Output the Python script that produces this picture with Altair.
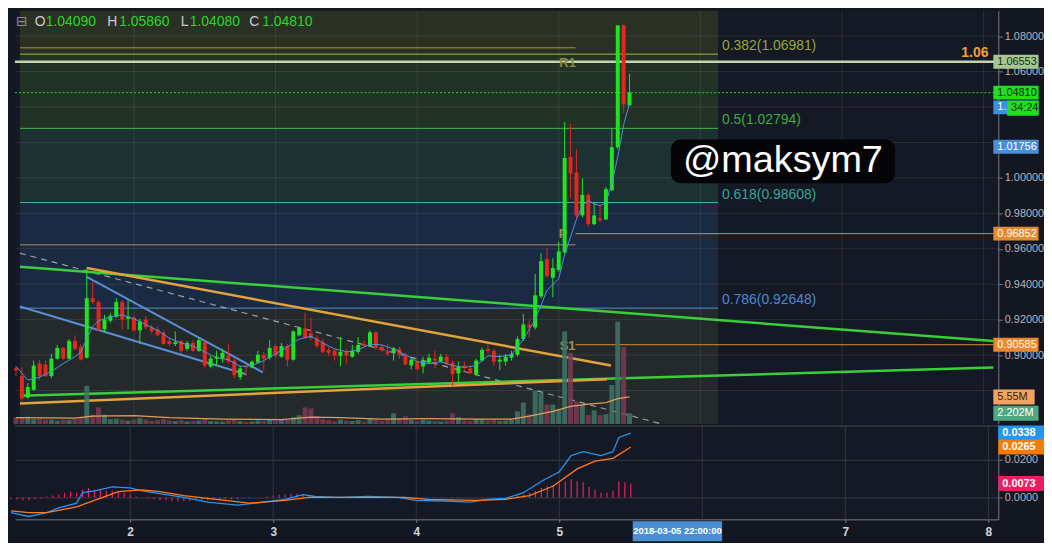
import altair as alt
import pandas as pd

FONT = "Liberation Sans"

# ---------------- values ----------------
START_DAY = 1 + 4 / 24          # first hourly candle: 1 March 04:00 (x axis = day of March)

OPEN = [0.8925,0.8881,0.8760,0.8804,0.8952,0.8947,0.8881,0.8980,0.9040,0.8980,
        0.9079,0.9046,0.8985,0.9321,0.9299,0.9145,0.9194,0.9216,0.9299,0.9205,
        0.9211,0.9139,0.9200,0.9156,0.9145,0.9128,0.9079,0.9062,0.9079,0.9035,
        0.9068,0.9024,0.9073,0.8936,0.8980,0.8980,0.8996,0.8969,0.8875,0.8936,
        0.8930,0.8958,0.9002,0.8985,0.9051,0.8991,0.9051,0.8974,0.9112,0.9150,
        0.9123,0.9095,0.9073,0.9029,0.9024,0.8996,0.9018,0.8991,0.9018,0.9062,
        0.9051,0.9128,0.9046,0.9024,0.9013,0.9035,0.9002,0.8941,0.8963,0.8936,
        0.8958,0.8980,0.8963,0.8991,0.8958,0.8897,0.8941,0.8925,0.8892,0.8969,
        0.9035,0.9024,0.8963,0.8963,0.8985,0.9002,0.9090,0.9172,0.9156,0.9331,
        0.9541,0.9436,0.9480,0.9579,1.0118,1.0030,0.9788,0.9904,0.9739,0.9772,
        0.9766,0.9931,1.0173,1.0861,1.0409]
HIGH = [0.8936,0.8930,0.8842,0.8969,0.8974,0.8969,0.9007,0.9057,0.9046,0.9090,
        0.9112,0.9062,0.9491,0.9414,0.9310,0.9227,0.9238,0.9321,0.9310,0.9310,
        0.9222,0.9205,0.9222,0.9172,0.9161,0.9139,0.9101,0.9134,0.9084,0.9079,
        0.9084,0.9101,0.9079,0.8996,0.9024,0.9035,0.9062,0.8980,0.8941,0.8941,
        0.8969,0.9024,0.9018,0.9084,0.9062,0.9068,0.9062,0.9139,0.9161,0.9238,
        0.9211,0.9112,0.9090,0.9046,0.9035,0.9101,0.9035,0.9057,0.9101,0.9084,
        0.9139,0.9134,0.9062,0.9062,0.9046,0.9046,0.9013,0.8991,0.8974,0.8991,
        0.9007,0.9024,0.9007,0.9007,0.8969,0.8963,0.8963,0.8941,0.8980,0.9040,
        0.9062,0.9035,0.9002,0.9007,0.9024,0.9106,0.9233,0.9194,0.9458,0.9574,
        0.9601,0.9546,0.9640,1.0316,1.0305,1.0162,0.9997,0.9915,0.9860,0.9849,
        0.9947,1.0283,1.0861,1.0866,1.0586]
LOW = [0.8881,0.8738,0.8754,0.8798,0.8859,0.8875,0.8870,0.8974,0.8974,0.8974,
       0.9029,0.8969,0.8980,0.9288,0.9134,0.9128,0.9183,0.9211,0.9145,0.9145,
       0.9134,0.9062,0.9145,0.9117,0.9106,0.9057,0.9051,0.9051,0.9007,0.9024,
       0.9018,0.9018,0.8925,0.8925,0.8941,0.8958,0.8952,0.8870,0.8859,0.8881,
       0.8925,0.8952,0.8914,0.8974,0.8985,0.8985,0.8936,0.8969,0.9106,0.9090,
       0.9084,0.9040,0.9007,0.8996,0.8969,0.8936,0.8952,0.8985,0.9007,0.9046,
       0.9046,0.9029,0.9018,0.8996,0.8969,0.8980,0.8941,0.8919,0.8914,0.8897,
       0.8947,0.8925,0.8958,0.8941,0.8826,0.8837,0.8908,0.8892,0.8881,0.8963,
       0.9007,0.8941,0.8914,0.8941,0.8969,0.8991,0.9079,0.9101,0.9145,0.9321,
       0.9436,0.9326,0.9469,0.9568,0.9887,0.9777,0.9777,0.9722,0.9733,0.9750,
       0.9761,0.9926,1.0162,1.0366,1.0408]
CLOSE = [0.8914,0.8754,0.8820,0.8941,0.8881,0.8881,0.8980,0.9040,0.8980,0.9079,
         0.9035,0.8974,0.9321,0.9299,0.9145,0.9200,0.9222,0.9299,0.9200,0.9216,
         0.9139,0.9189,0.9156,0.9134,0.9112,0.9062,0.9062,0.9073,0.9024,0.9068,
         0.9024,0.9084,0.8941,0.8980,0.8991,0.9013,0.8963,0.8886,0.8925,0.8930,
         0.8963,0.9002,0.8980,0.9040,0.8996,0.9051,0.8974,0.9134,0.9156,0.9101,
         0.9095,0.9051,0.9018,0.9013,0.8996,0.9018,0.8996,0.9024,0.9057,0.9051,
         0.9128,0.9040,0.9029,0.9007,0.9040,0.9002,0.8947,0.8974,0.8919,0.8969,
         0.8985,0.8969,0.8991,0.8952,0.8892,0.8936,0.8930,0.8897,0.8969,0.9029,
         0.9024,0.8963,0.8974,0.8991,0.9007,0.9090,0.9172,0.9156,0.9337,0.9530,
         0.9447,0.9491,0.9585,1.0112,1.0025,0.9788,0.9904,0.9739,0.9788,0.9761,
         0.9936,1.0173,1.0861,1.0415,1.0481]
VOLUME_M = [1.4,1.3,1.5,1.0,1.1,0.9,0.9,0.7,0.9,0.8,
            1.0,1.2,7.8,1.9,3.4,1.9,1.0,1.1,0.9,0.7,
            0.9,1.2,0.9,0.6,0.8,1.0,0.7,0.6,0.8,0.5,
            0.6,0.7,1.2,0.6,0.5,0.5,0.7,0.9,0.6,0.4,
            0.5,0.7,0.6,0.9,0.7,0.8,0.9,1.4,1.8,3.4,
            3.2,1.6,1.0,0.8,0.6,0.9,0.7,0.6,0.8,0.5,
            1.0,0.9,0.6,0.8,2.2,1.1,1.6,0.8,0.6,0.9,
            0.7,0.6,0.5,0.7,2.2,1.4,0.7,0.6,1.0,0.9,
            0.7,0.8,0.6,0.7,0.9,2.6,4.4,2.0,6.8,6.4,
            4.0,4.0,3.0,19.0,14.6,4.6,4.0,1.8,2.8,1.8,
            2.0,8.0,21.0,15.8,2.202]

MA_IDX = [0,2,4,6,8,10,11,12,13,14,16,18,20,22,24,26,28,30,32,34,36,38,40,42,44,46,48,50,
          52,54,56,58,60,62,64,66,68,70,72,74,76,78,80,82,84,86,88,90,92,93,94,95,96,97,98,
          99,100,101,102,103,104]
MA_PRICE = [0.8936,0.8859,0.8875,0.8908,0.8952,0.8991,0.9018,0.9090,0.9161,0.9194,0.9216,
            0.9227,0.9205,0.9172,0.9139,0.9095,0.9068,0.9051,0.9018,0.8985,0.8974,0.8936,
            0.8941,0.8969,0.9007,0.9046,0.9090,0.9106,0.9068,0.9035,0.9018,0.9029,0.9062,
            0.9057,0.9035,0.9002,0.8963,0.8952,0.8963,0.8941,0.8930,0.8941,0.8996,0.8991,
            0.9002,0.9090,0.9200,0.9365,0.9431,0.9568,0.9667,0.9766,0.9843,0.9871,0.9854,
            0.9843,0.9860,0.9970,1.0118,1.0300,1.0421]

VOL_MA_IDX = [0,10,13,20,26,35,45,50,55,62,70,78,84,87,91,94,97,100,102,104]
VOL_MA_M = [1.3,1.2,1.6,1.7,1.3,1.0,0.9,1.4,1.3,1.0,1.1,1.0,1.0,1.6,2.6,3.6,4.1,4.4,5.2,5.55]

MACD_IDX = [0,3,6,8,11,12,14,17,20,22,25,29,33,38,41,46,49,51,55,60,65,68,74,77,80,83,86,
            89,92,94,96,99,101,102,104]
MACD_VAL = [-0.0080,-0.0100,-0.0080,-0.0055,-0.0030,0.0025,0.0035,0.0055,0.0050,0.0035,
            0.0020,0.0000,-0.0025,-0.0040,-0.0030,-0.0010,0.0015,0.0005,0.0000,0.0005,
            0.0000,-0.0015,-0.0020,-0.0025,-0.0010,-0.0005,0.0025,0.0085,0.0135,0.0220,
            0.0240,0.0220,0.0240,0.0315,0.0338]
SIGNAL_IDX = [0,3,6,11,14,18,22,25,29,33,40,46,50,53,66,70,78,83,87,91,95,98,101,104]
SIGNAL_VAL = [-0.0070,-0.0080,-0.0080,-0.0050,-0.0015,0.0030,0.0040,0.0030,0.0010,-0.0005,
              -0.0030,-0.0015,0.0000,0.0000,0.0000,-0.0010,-0.0015,-0.0010,0.0010,0.0060,
              0.0150,0.0190,0.0205,0.0265]
HIST_E4 = [-10,-10,-15,-15,-10,-5,5,10,15,25, 30,25,40,50,40,40,35,35,30,25,
           15,5,0,-5,-10,-15,-15,-20,-20,-20, -20,-15,-15,-15,-15,-15,-10,-10,-10,-5,
           -5,0,0,5,10,15,15,20,20,15, 10,5,0,0,0,0,0,0,0,0,
           0,0,0,0,0,-3,-3,-3,-3,-3, -3,-3,-3,-3,-3,-3,-3,-3,-3,-3,
           -3,-3,-3,0,5,10,15,25,35,50, 60,65,75,85,95,85,80,55,40,25,
           25,35,85,80,73]

PRICE_TICKS = [0.88, 0.90, 0.92, 0.94, 0.96, 0.98, 1.00, 1.02, 1.04, 1.06, 1.08]
PRICE_LABEL_TICKS = [0.90, 0.92, 0.94, 0.96, 0.98, 1.00, 1.06, 1.08]   # others hidden by labels
MACD_TICKS = [0.0, 0.02]
DAY_TICKS = [2, 3, 4, 5, 6, 7, 8]
DAY_LABEL_TICKS = [2, 3, 4, 5, 7, 8]                                    # "6" hidden by date label

X_RANGE = [1.1944, 8.0694]
PRICE_RANGE = [0.8611, 1.0943]
VOL_MAX_M = 84.8                 # volume overlay: full pane height = 84.8M
MACD_RANGE = [-0.0115, 0.0375]

FIB_RATIO = ["0.382", "0.5", "0.618", "0.786"]
FIB_PRICE = [1.06981, 1.02794, 0.98608, 0.92648]
FIB_LINE_COLOR = ["#a9b645", "#47b547", "#3fb5a5", "#4d8fd6"]
FIB_TEXT_COLOR = ["#98a63c", "#3daa3d", "#3aa596", "#4a8acf"]
ZONE_COLOR = ["#2b3024", "#233226", "#1d3132", "#1b2a43", "#24292c"]
FIB_END_DAY = 6.125

PIVOT_FROM = [1.1944, 1.1944, 5.118, 5.118]
PIVOT_TO = [5.118, 5.118, 8.0694, 8.0694]
PIVOT_PRICE = [1.0734, 0.9622, 0.96852, 0.90585]
PIVOT_COLOR = ["#b48c5c", "#b48c5c", "#e08a30", "#e08a30"]
PIVOT_LABEL = ["R1", "P", "S1"]
PIVOT_LABEL_DAY = [5.0625, 5.03, 5.0625]
PIVOT_LABEL_PRICE = [1.0646, 0.9684, 0.9051]
PIVOT_LABEL_COLOR = ["#8e8a3e", "#a08a50", "#b08c4e"]

HLINE_PRICE = 1.06553
LAST_PRICE = 1.04810

TREND_D1 = [1.1944, 1.1944, 1.1944, 1.6667, 1.6667, 1.1944]
TREND_P1 = [0.9499, 0.8770, 0.8727, 0.9491, 0.9441, 0.9274]
TREND_D2 = [8.0694, 8.0694, 5.3403, 5.3681, 2.9097, 2.7917]
TREND_P2 = [0.9079, 0.8930, 0.8864, 0.8941, 0.8903, 0.8892]
TREND_COLOR = ["#38d038", "#38d038", "#e3a33a", "#e3a33a", "#5b8ed6", "#5b8ed6"]
TREND_WIDTH = [2.5, 2.5, 2.5, 2.5, 2.0, 2.0]
DASH_D = [1.1944, 5.7222]
DASH_P = [0.9575, 0.8612]

LEGEND_TEXT = ["\u229f", "O", "1.04090", "H", "1.05860", "L", "1.04080", "C", "1.04810"]
LEGEND_COLOR = ["#8a8e99", "#c8cbd2", "#2ad62a", "#c8cbd2", "#2ad62a", "#c8cbd2", "#2ad62a",
                "#c8cbd2", "#2ad62a"]
LEGEND_DX = [-4, 15, 26, 88, 100, 162, 171, 231, 244]
LEGEND_PRICE = 1.0877

WATERMARK = "@maksym7"
WM_DAY = [5.7917, 7.375]
WM_PRICE = [0.9970, 1.0217]

PRICE_BOX_VAL = [1.06553, 1.04810, 1.0398, 1.01756, 0.96852, 0.90585]
PRICE_BOX_TEXT = ["1.06553", "1.04810", "1.", "1.01756", "0.96852", "0.90585"]
PRICE_BOX_BG = ["#a3c78e", "#1fe01f", "#3d8fe0", "#4a8fd6", "#e8892e", "#e8892e"]
PRICE_BOX_FG = ["#1a2a1a", "#0a240a", "#ffffff", "#ffffff", "#ffffff", "#ffffff"]
COUNTDOWN = "34:24"
COUNTDOWN_PRICE = 1.0393
VOL_BOX_VAL = [5.55, 2.202]
VOL_BOX_TEXT = ["5.55M", "2.202M"]
VOL_BOX_BG = ["#f2a35e", "#4ea983"]
VOL_BOX_FG = ["#3a2208", "#ffffff"]
MACD_BOX_VAL = [0.0338, 0.0265, 0.0073]
MACD_BOX_TEXT = ["0.0338", "0.0265", "0.0073"]
MACD_BOX_BG = ["#2196f3", "#f57c00", "#e91e63"]
DATE_LABEL = "2018-03-05 22:00:00"
DATE_DAY = 5.826

UP, DOWN = "#1ee61e", "#e3261e"
VUP, VDOWN = "#3f7466", "#7a3b52"

W, H_MAIN, H_MACD = 990, 416, 94

PX_DAY = (X_RANGE[1] - X_RANGE[0]) / W
PX_PRICE = (PRICE_RANGE[1] - PRICE_RANGE[0]) / H_MAIN
PX_MACD = (MACD_RANGE[1] - MACD_RANGE[0]) / H_MACD
VOL_K = (PRICE_RANGE[1] - PRICE_RANGE[0]) / VOL_MAX_M

# one identity colour scale shared by every layer
PALETTE = list(dict.fromkeys(
    FIB_LINE_COLOR + FIB_TEXT_COLOR + ZONE_COLOR + PIVOT_COLOR + PIVOT_LABEL_COLOR + TREND_COLOR
    + PRICE_BOX_BG + PRICE_BOX_FG + VOL_BOX_BG + VOL_BOX_FG + MACD_BOX_BG
    + ["#1fe01f", "#0a240a", UP, DOWN, VUP, VDOWN]))
CSCALE = alt.Scale(domain=PALETTE, range=PALETTE)


def C(f):
    return alt.Color(f"{f}:N", scale=CSCALE, legend=None)


xs = alt.Scale(domain=X_RANGE, nice=False, zero=False)
ys = alt.Scale(domain=PRICE_RANGE, nice=False, zero=False)
ms = alt.Scale(domain=MACD_RANGE, nice=False, zero=False)

PRICE_AXIS = alt.Axis(orient="right", values=PRICE_LABEL_TICKS, format=".5f", grid=False, zindex=0,
                      labelColor="#b2b5be", labelFont=FONT, labelFontSize=11, tickColor="#787b86",
                      tickSize=4, domainColor="#787b86", labelPadding=2, title=None)
MACD_AXIS = alt.Axis(orient="right", values=MACD_TICKS, format=".4f", grid=True, zindex=0,
                     gridColor="#363a45", labelColor="#b2b5be", labelFont=FONT,
                     labelFontSize=11, tickColor="#787b86", tickSize=4, domainColor="#787b86",
                     labelPadding=2, title=None)
DAY_AXIS = alt.Axis(orient="bottom", values=DAY_LABEL_TICKS, format="d", grid=False, zindex=0,
                    labelColor="#d1d4dc", labelFont=FONT, labelFontSize=12,
                    labelFontWeight="bold", tickColor="#787b86", tickSize=3,
                    domainColor="#787b86", labelPadding=4, title=None)


def X(f):
    return alt.X(f, type="quantitative", scale=xs, axis=None)


def XM(f):
    return alt.X(f, type="quantitative", scale=xs, axis=DAY_AXIS)


def Y(f):
    return alt.Y(f, type="quantitative", scale=ys, axis=PRICE_AXIS)


def M(f):
    return alt.Y(f, type="quantitative", scale=ms, axis=MACD_AXIS)


def day_of(i):
    return START_DAY + i / 24.0


def boxes(vals, texts, bgs, fgs, px_unit, w=46, h=14, x_off=0, y_of=lambda v: v):
    return pd.DataFrame({
        "d1": [X_RANGE[1] + x_off * PX_DAY] * len(vals),
        "d2": [X_RANGE[1] + w * PX_DAY] * len(vals),
        "y1": [y_of(v) - h / 2 * px_unit for v in vals],
        "y2": [y_of(v) + h / 2 * px_unit for v in vals],
        "yc": [y_of(v) for v in vals],
        "t": texts, "bg": bgs, "fg": fgs})


def box_layers(df, xfun, yfun, weight="normal"):
    r = alt.Chart(df).mark_rect().encode(
        x=xfun("d1"), x2="d2", y=yfun("y1"), y2="y2", color=C("bg"))
    t = alt.Chart(df).mark_text(align="left", baseline="middle", dx=4, font=FONT,
                                fontSize=11, fontWeight=weight).encode(
        x=xfun("d1"), y=yfun("yc"), text="t:N", color=C("fg"))
    return [r, t]


# ---------------- price pane ----------------
n = len(OPEN)
cdf = pd.DataFrame({"day": [day_of(i) for i in range(n)], "open": OPEN, "high": HIGH,
                    "low": LOW, "close": CLOSE})
cdf["col"] = [UP if c >= o else DOWN for o, c in zip(OPEN, CLOSE)]
cdf["vcol"] = [VUP if c >= o else VDOWN for o, c in zip(OPEN, CLOSE)]
cdf["base"] = PRICE_RANGE[0]
cdf["vp"] = [PRICE_RANGE[0] + v * VOL_K for v in VOLUME_M]

edges = [PRICE_RANGE[1]] + FIB_PRICE + [PRICE_RANGE[0]]
zdf = pd.DataFrame({"d1": [X_RANGE[0]] * 5, "d2": [FIB_END_DAY] * 5,
                    "p1": edges[:-1], "p2": edges[1:], "fill": ZONE_COLOR})
zones = alt.Chart(zdf).mark_rect().encode(
    x=X("d1"), x2="d2", y=Y("p1"), y2="p2", color=C("fill"))

hgrid = alt.Chart(pd.DataFrame({"p": PRICE_TICKS})).mark_rule(
    color="#ffffff", opacity=0.09, strokeWidth=1).encode(y=Y("p"))
vgrid = alt.Chart(pd.DataFrame({"d": DAY_TICKS})).mark_rule(
    color="#ffffff", opacity=0.09, strokeWidth=1).encode(x=X("d"))

fdf = pd.DataFrame({"d1": [X_RANGE[0]] * 4, "d2": [FIB_END_DAY] * 4, "p": FIB_PRICE,
                    "lc": FIB_LINE_COLOR, "tc": FIB_TEXT_COLOR,
                    "t": [f"{r}({p:.5f})" for r, p in zip(FIB_RATIO, FIB_PRICE)]})
fib_lines = alt.Chart(fdf).mark_rule(strokeWidth=1).encode(
    x=X("d1"), x2="d2", y=Y("p"), color=C("lc"))
fib_text = alt.Chart(fdf).mark_text(align="left", baseline="middle", dx=4, dy=-8,
                                    font=FONT, fontSize=14).encode(
    x=X("d2"), y=Y("p"), text="t:N", color=C("tc"))

pdf = pd.DataFrame({"d1": PIVOT_FROM, "d2": PIVOT_TO, "p": PIVOT_PRICE, "c": PIVOT_COLOR})
pivots = alt.Chart(pdf).mark_rule(strokeWidth=1).encode(
    x=X("d1"), x2="d2", y=Y("p"), color=C("c"))
pldf = pd.DataFrame({"d": PIVOT_LABEL_DAY, "p": PIVOT_LABEL_PRICE, "t": PIVOT_LABEL,
                     "c": PIVOT_LABEL_COLOR})
pivot_text = alt.Chart(pldf).mark_text(font=FONT, fontSize=13, fontWeight="bold",
                                       baseline="middle").encode(
    x=X("d"), y=Y("p"), text="t:N", color=C("c"))

hline = alt.Chart(pd.DataFrame({"p": [HLINE_PRICE]})).mark_rule(
    color="#c3d3ad", strokeWidth=2.5).encode(y=Y("p"))
lastline = alt.Chart(pd.DataFrame({"p": [LAST_PRICE]})).mark_rule(
    color="#22dd22", strokeWidth=1, strokeDash=[2, 2]).encode(y=Y("p"))
hline_label = alt.Chart(pd.DataFrame({"d": [X_RANGE[1]], "p": [HLINE_PRICE], "t": ["1.06"]})).mark_text(
    align="right", baseline="middle", dx=-5, dy=-9, font=FONT, fontSize=14, fontWeight="bold",
    color="#f0a030").encode(x=X("d"), y=Y("p"), text="t:N")

trend_layers = []
for k in range(len(TREND_D1)):
    trend_layers.append(
        alt.Chart(pd.DataFrame({"d": [TREND_D1[k], TREND_D2[k]], "p": [TREND_P1[k], TREND_P2[k]]}))
        .mark_line(strokeWidth=TREND_WIDTH[k], color=TREND_COLOR[k], clip=True)
        .encode(x=X("d"), y=Y("p")))
dashed = alt.Chart(pd.DataFrame({"d": DASH_D, "p": DASH_P})).mark_line(
    strokeWidth=1.2, strokeDash=[6, 5], color="#9aa0aa", clip=True).encode(x=X("d"), y=Y("p"))

vol_bars = alt.Chart(cdf).mark_bar(size=5, opacity=0.85).encode(
    x=X("day"), y=Y("vp"), y2="base", color=C("vcol"))
vmdf = pd.DataFrame({"day": [day_of(i) for i in VOL_MA_IDX],
                     "vp": [PRICE_RANGE[0] + v * VOL_K for v in VOL_MA_M]})
vol_ma = alt.Chart(vmdf).mark_line(color="#e39b5a", strokeWidth=1.3).encode(x=X("day"), y=Y("vp"))

wicks = alt.Chart(cdf).mark_rule(strokeWidth=1).encode(
    x=X("day"), y=Y("low"), y2="high", color=C("col"))
bodies = alt.Chart(cdf).mark_bar(size=4).encode(
    x=X("day"), y=Y("open"), y2="close", color=C("col"))
madf = pd.DataFrame({"day": [day_of(i) for i in MA_IDX], "p": MA_PRICE})
ma_line = alt.Chart(madf).mark_line(color="#4c93e0", strokeWidth=1).encode(x=X("day"), y=Y("p"))

wm_rect = alt.Chart(pd.DataFrame({"d1": [WM_DAY[0]], "d2": [WM_DAY[1]], "p1": [WM_PRICE[0]],
                                  "p2": [WM_PRICE[1]]})).mark_rect(
    color="#050507", cornerRadius=10).encode(x=X("d1"), x2="d2", y=Y("p1"), y2="p2")
wm_text = alt.Chart(pd.DataFrame({"d": [sum(WM_DAY) / 2], "p": [sum(WM_PRICE) / 2],
                                  "t": [WATERMARK]})).mark_text(
    font=FONT, fontSize=38, color="#ffffff", baseline="middle", align="center").encode(
    x=X("d"), y=Y("p"), text="t:N")

legend_layers = []
for txt, colr, dx in zip(LEGEND_TEXT, LEGEND_COLOR, LEGEND_DX):
    legend_layers.append(
        alt.Chart(pd.DataFrame({"d": [X_RANGE[0]], "p": [LEGEND_PRICE], "t": [txt]})).mark_text(
            align="left", baseline="middle", dx=dx, color=colr, fontSize=14,
            font=("DejaVu Sans" if txt == "\u229f" else FONT)).encode(
            x=X("d"), y=Y("p"), text="t:N"))

pb = boxes(PRICE_BOX_VAL, PRICE_BOX_TEXT, PRICE_BOX_BG, PRICE_BOX_FG, PX_PRICE, w=46, h=14)
cd = boxes([COUNTDOWN_PRICE], [COUNTDOWN], ["#1fe01f"], ["#0a240a"], PX_PRICE, w=46, h=15, x_off=14)
vb1 = boxes(VOL_BOX_VAL[:1], VOL_BOX_TEXT[:1], VOL_BOX_BG[:1], VOL_BOX_FG[:1], PX_PRICE, w=42, h=15,
            y_of=lambda v: PRICE_RANGE[0] + v * VOL_K)
vb2 = boxes(VOL_BOX_VAL[1:], VOL_BOX_TEXT[1:], VOL_BOX_BG[1:], VOL_BOX_FG[1:], PX_PRICE, w=46, h=15,
            y_of=lambda v: PRICE_RANGE[0] + v * VOL_K)

main = alt.layer(zones, hgrid, vgrid, fib_lines, pivots, hline, lastline, dashed,
                 *trend_layers, fib_text, pivot_text, hline_label,
                 vol_bars, vol_ma,
                 wicks, bodies, ma_line, wm_rect, wm_text, *legend_layers,
                 *box_layers(pb, X, Y), *box_layers(cd, X, Y),
                 *box_layers(vb1, X, Y), *box_layers(vb2, X, Y)).properties(width=W, height=H_MAIN)

# ---------------- MACD pane ----------------
mvgrid = alt.Chart(pd.DataFrame({"d": DAY_TICKS})).mark_rule(
    color="#30343f", strokeWidth=1).encode(x=XM("d"))
hdf = pd.DataFrame({"day": [day_of(i) for i in range(n)], "z": [0.0] * n,
                    "h": [v / 10000 for v in HIST_E4]})
hist = alt.Chart(hdf).mark_rule(color="#e91e63", strokeWidth=1.2).encode(
    x=XM("day"), y=M("z"), y2="h")
mdf = pd.DataFrame({"day": [day_of(i) for i in MACD_IDX], "v": MACD_VAL})
sdf = pd.DataFrame({"day": [day_of(i) for i in SIGNAL_IDX], "v": SIGNAL_VAL})
macd_line = alt.Chart(mdf).mark_line(color="#2196f3", strokeWidth=1.3).encode(x=XM("day"), y=M("v"))
sig_line = alt.Chart(sdf).mark_line(color="#ff7a1a", strokeWidth=1.3).encode(x=XM("day"), y=M("v"))
top_sep = alt.Chart(pd.DataFrame({"v": [MACD_RANGE[1]]})).mark_rule(
    color="#4a4e5a", strokeWidth=1).encode(y=M("v"))

mb = boxes(MACD_BOX_VAL, MACD_BOX_TEXT, MACD_BOX_BG, ["#ffffff"] * 3, PX_MACD, w=46, h=15)

ddf = pd.DataFrame({"d1": [DATE_DAY - 45 * PX_DAY], "d2": [DATE_DAY + 45 * PX_DAY],
                    "dc": [DATE_DAY],
                    "y1": [MACD_RANGE[0] - 2 * PX_MACD], "y2": [MACD_RANGE[0] - 22 * PX_MACD],
                    "yc": [MACD_RANGE[0] - 12 * PX_MACD], "t": [DATE_LABEL]})
date_box = alt.Chart(ddf).mark_rect(color="#4a8fd6").encode(
    x=XM("d1"), x2="d2", y=M("y1"), y2="y2")
date_text = alt.Chart(ddf).mark_text(align="center", baseline="middle", font=FONT,
                                     fontSize=9.5, fontWeight="bold", color="#ffffff").encode(
    x=XM("dc"), y=M("yc"), text="t:N")

macd = alt.layer(mvgrid, hist, macd_line, sig_line, top_sep, *box_layers(mb, XM, M, weight="bold"),
                 date_box, date_text).properties(width=W, height=H_MACD)

chart = alt.vconcat(main, macd, spacing=0).properties(padding=0, background="#131722").configure_view(
    strokeWidth=0, fill="#151925")

chart.save("out.html", embed_options={"renderer": "svg", "actions": False})
